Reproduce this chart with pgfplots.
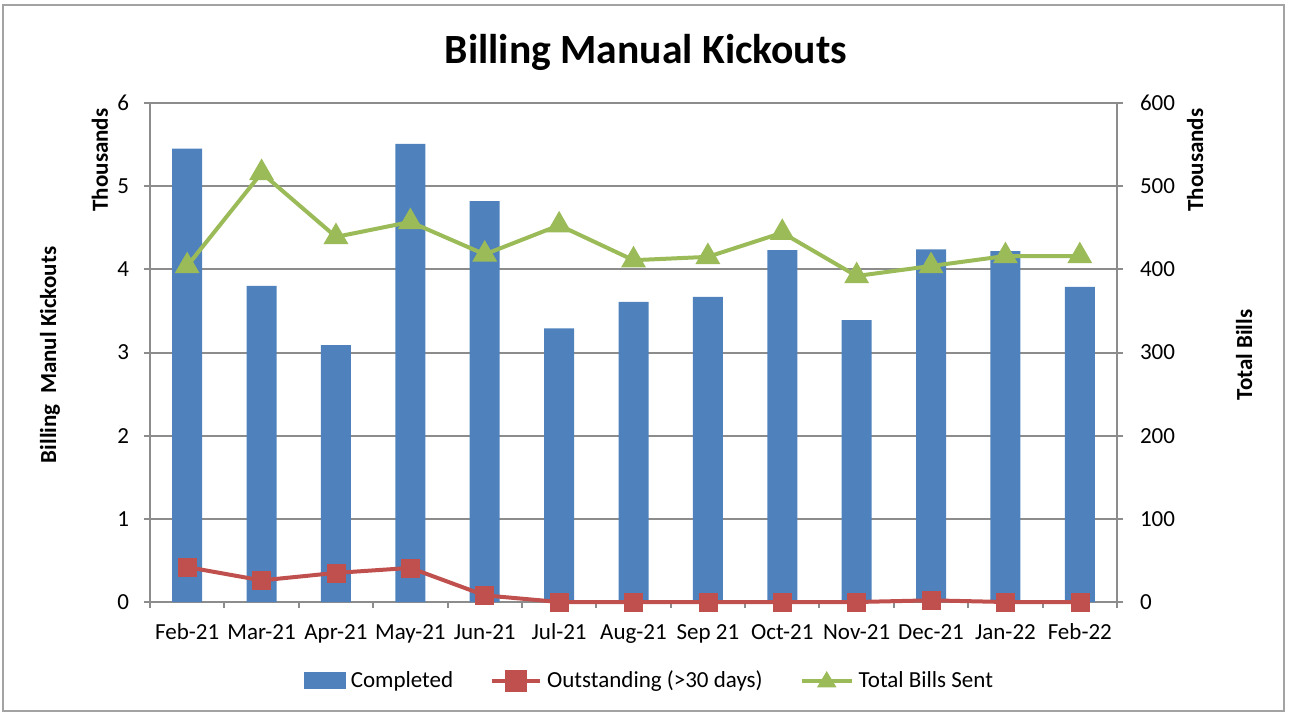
\documentclass[border=0pt]{standalone}
\usepackage{pgfplots}
\pgfplotsset{compat=1.18}
\usepackage{fontspec}
\setmainfont{Carlito}
\definecolor{cblue}{HTML}{4F81BD}
\definecolor{cred}{HTML}{C0504D}
\definecolor{cgreen}{HTML}{9BBB59}
\definecolor{cgrid}{HTML}{8C8C8C}
\begin{document}
\begin{tikzpicture}
\path[use as bounding box] (0,0) rectangle (646bp,-356.5bp);
\draw[cgrid!80, line width=1.2bp] (1.5bp,-2.5bp) rectangle (642bp,-355.5bp);
\node[font=\fontsize{20.8bp}{24bp}\selectfont\bfseries] at (323bp,-26bp) {Billing Manual Kickouts};
\node[rotate=90, font=\fontsize{11.5bp}{14bp}\selectfont\bfseries] at (25bp,-177.5bp) {Billing\ \ Manul Kickouts};
\node[rotate=90, font=\fontsize{11.5bp}{14bp}\selectfont\bfseries] at (50bp,-80bp) {Thousands};
\node[rotate=90, font=\fontsize{11.5bp}{14bp}\selectfont\bfseries] at (597.5bp,-80bp) {Thousands};
\node[rotate=90, font=\fontsize{11.5bp}{14bp}\selectfont\bfseries] at (622bp,-177.5bp) {Total Bills};
\begin{axis}[
  at={(75bp,-301bp)}, anchor=south west,
  scale only axis, width=483.5bp, height=249.5bp,
  xmin=-0.5, xmax=12.5, ymin=0, ymax=6,
  axis x line*=bottom, axis y line*=left,
  axis line style={cgrid, line width=1bp, -},
  xtick={0,...,12},
  xticklabels={Feb-21,Mar-21,Apr-21,May-21,Jun-21,Jul-21,Aug-21,Sep 21,Oct-21,Nov-21,Dec-21,Jan-22,Feb-22},
  major x tick style={draw=none},
  minor xtick={-0.5,0.5,...,12.5},
  minor tick length=3bp,
  minor x tick style={cgrid, line width=1bp},
  ytick={0,1,...,6},
  major tick length=3bp,
  tick align=outside,
  y tick style={cgrid, line width=1bp},
  ymajorgrids, major grid style={cgrid, line width=1bp},
  tick label style={font=\fontsize{11.5bp}{14bp}\selectfont},
  /pgf/number format/assume math mode=true,
  yticklabel style={xshift=-4bp},
  xticklabel style={yshift=-3.5bp, text height=8.5bp, text depth=2.5bp},
  clip=false,
  legend columns=3,
  legend style={at={(0.518,-0.158)}, anchor=center, draw=none, font=\fontsize{11.5bp}{14bp}\selectfont,
    /tikz/every even column/.append style={column sep=16bp}, inner sep=0pt,
    nodes={inner xsep=2.5bp}},
]
\addplot[ybar, bar width=15bp, fill=cblue, draw=none, area legend,
  legend image code/.code={\fill[cblue] (0bp,-4bp) rectangle (21bp,4.5bp);}]
  coordinates {(0,5.45) (1,3.80) (2,3.09) (3,5.51) (4,4.82) (5,3.29) (6,3.61) (7,3.67) (8,4.23) (9,3.39) (10,4.24) (11,4.22) (12,3.79)};
\addlegendentry{Completed}
\addplot[cred, line width=2bp, mark=square*, mark size=4.5bp, mark options={fill=cred, draw=cred, line width=0.3bp},
  legend image code/.code={\draw[cred, line width=2bp] (0bp,0bp) -- (24bp,0bp); \fill[cred] (7.5bp,-4.5bp) rectangle (16.5bp,4.5bp);}]
  coordinates {(0,0.42) (1,0.26) (2,0.35) (3,0.41) (4,0.08) (5,0) (6,0) (7,0) (8,0) (9,0) (10,0.02) (11,0) (12,0)};
\addlegendentry{Outstanding (>30 days)}
\addlegendimage{legend image code/.code={\draw[cgreen, line width=2bp] (0bp,0bp) -- (25bp,0bp); \fill[cgreen] (12.5bp,4.5bp) -- (8bp,-3bp) -- (17bp,-3bp) -- cycle;}}
\addlegendentry{Total Bills Sent}
\end{axis}
\begin{axis}[
  at={(75bp,-301bp)}, anchor=south west,
  scale only axis, width=483.5bp, height=249.5bp,
  xmin=-0.5, xmax=12.5, ymin=0, ymax=600,
  axis x line=none, axis y line*=right,
  axis line style={cgrid, line width=1bp, -},
  ytick={0,100,...,600},
  major tick length=3bp,
  tick align=outside,
  y tick style={cgrid, line width=1bp},
  tick label style={font=\fontsize{11.5bp}{14bp}\selectfont},
  /pgf/number format/assume math mode=true,
  yticklabel style={xshift=5bp},
  clip=false,
]
\addplot[cgreen, line width=2bp, mark=triangle*, mark size=5.2bp, mark options={fill=cgreen, draw=cgreen}]
  coordinates {(0,404) (1,516) (2,439) (3,457) (4,418) (5,453) (6,411) (7,415) (8,444) (9,392) (10,404) (11,416) (12,416)};
\end{axis}
\end{tikzpicture}
\end{document}
